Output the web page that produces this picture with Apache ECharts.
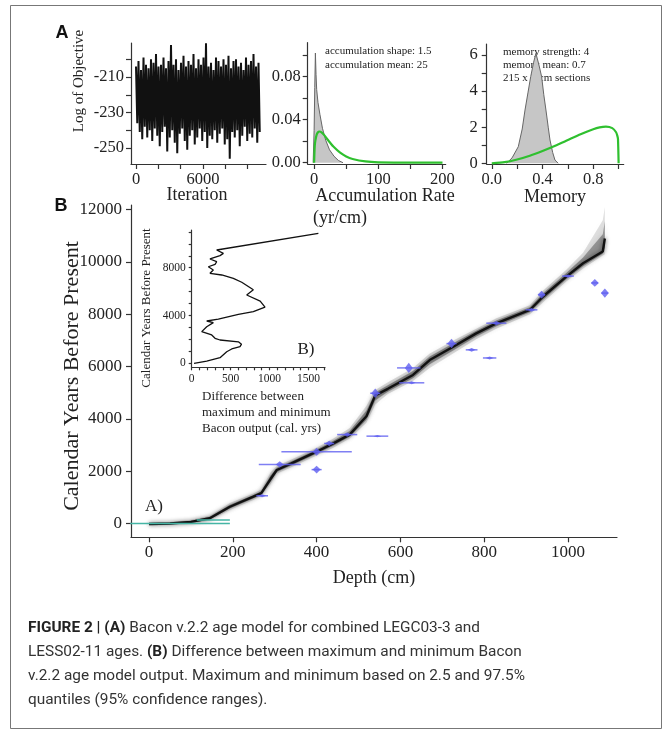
<!DOCTYPE html>
<html>
<head>
<meta charset="utf-8">
<script src="https://cdn.jsdelivr.net/npm/echarts@6/dist/echarts.min.js"></script>
<style>
  html, body { margin: 0; background: #fff; }
  #main { width: 672px; height: 736px; }
</style>
</head>
<body>
<div id="main"></div>
<script>
// ---- data ----

// A: MCMC trace, upper / lower extent of each block of iterations
const traceEnd = 11200
const traceHigh = [-204,-201,-206,-199,-203,-205,-200,-202,-197,-204,-203,-199,-205,-201,-192,-203,-200,-206,-202,-198,-204,-201,-203,-197,-205,-200,-203,-199,-191,-204,-202,-206,-199,-201,-204,-200,-203,-198,-205,-201,-200,-204,-202,-206,-199,-203,-201,-197,-204,-202]
const traceLow = [-236,-241,-245,-238,-244,-240,-246,-239,-243,-249,-241,-238,-252,-244,-240,-247,-253,-242,-239,-246,-251,-243,-240,-248,-244,-239,-246,-241,-250,-243,-245,-240,-247,-242,-239,-248,-245,-256,-241,-244,-240,-249,-243,-238,-246,-242,-244,-239,-247,-241]

// A: accumulation rate, posterior (grey) and prior (green)
const accRate = [-1.5, 0, 1, 2, 3, 4, 6, 9, 13, 18, 24, 31, 38, 45]
const accPosterior = [0, 0.03, 0.07, 0.102, 0.082, 0.068, 0.056, 0.045, 0.032, 0.021, 0.012, 0.006, 0.002, 0]
const accPriorRate = [0, 1, 2, 4, 6, 8, 10, 12, 15, 20, 25, 30, 40, 50, 60, 80, 100, 150, 200]
const accPrior = [0, 0.0156, 0.0208, 0.0261, 0.0283, 0.029, 0.0288, 0.028, 0.0261, 0.0223, 0.0185, 0.015, 0.0095, 0.0058, 0.0035, 0.0012, 0.0004, 0, 0]

// A: memory, posterior (grey) and prior (green)
const memValue = [0.117, 0.16, 0.209, 0.24, 0.262, 0.285, 0.307, 0.33, 0.348, 0.37, 0.393, 0.41, 0.427, 0.445, 0.459, 0.48, 0.498, 0.524]
const memPosterior = [0, 0.3, 0.92, 1.9, 2.95, 3.9, 4.8, 5.6, 6.09, 5.5, 4.8, 3.8, 2.95, 2.0, 1.29, 0.6, 0.18, 0]
const memPriorValue = [0, 0.1, 0.2, 0.3, 0.4, 0.5, 0.6, 0.7, 0.8, 0.85, 0.9, 0.95, 0.98, 0.99, 0.995, 1]
const memPrior = [0, 0.06, 0.21, 0.42, 0.68, 0.97, 1.29, 1.61, 1.89, 1.99, 2.03, 1.95, 1.72, 1.52, 1.34, 0]

// B: age-depth model (mean and 95% range)
const modelDepth = [0, 50, 100, 145, 193, 249, 268, 290, 305, 340, 400, 440, 479, 519, 540, 570, 630, 670, 726, 781, 829, 909, 940, 996, 1036, 1083, 1088]
const modelAge   = [-20, 0, 60, 200, 640, 1025, 1160, 1700, 2045, 2300, 2745, 3065, 3400, 4100, 4900, 5150, 5680, 6250, 6760, 7270, 7655, 8165, 8670, 9440, 9950, 10400, 10900]
const modelLow   = [-80, -60, -20, 110, 520, 900, 1050, 1500, 1900, 2150, 2600, 2900, 3250, 3850, 4550, 4950, 5450, 5950, 6500, 7050, 7450, 8000, 8450, 9250, 9750, 10250, 10300]
const modelHigh  = [40, 60, 140, 300, 780, 1150, 1300, 1950, 2200, 2450, 2900, 3250, 3650, 4500, 5100, 5400, 5950, 6500, 7000, 7450, 7850, 8350, 8900, 9700, 10350, 11600, 12100]

// B: calibrated dates
const dateDepth  = [270, 312, 400, 400, 430, 473, 545, 540, 620, 627, 722, 770, 813, 829, 913, 937, 1000, 1064, 1088]
const dateAge    = [1060, 2260, 2745, 2060, 3060, 3400, 3340, 4980, 5950, 5380, 6880, 6640, 6330, 7660, 8170, 8750, 9460, 9200, 8810]
const dateSpread = [60, 120, 150, 150, 100, 80, 40, 180, 200, 60, 180, 70, 60, 80, 70, 150, 60, 150, 180]
const dateBar    = [14, 50, 84, 12, 12, 24, 26, 12, 28, 30, 12, 14, 16, 24, 14, 8, 14, 8, 8]

// B: surface ages
const surfaceFrom = [-45, 114]
const surfaceTo = [193, 193]
const surfaceAge = [0, 135]

// B inset: max - min difference against age
const insetDiff = [30, 193, 364, 450, 514, 621, 640, 600, 364, 300, 257, 129, 193, 278, 193, 342, 600, 792, 942, 880, 707, 792, 643, 535, 386, 235, 278, 214, 300, 321, 235, 364, 407, 321, 1628]
const insetAge  = [0, 190, 470, 970, 1200, 1390, 1600, 1800, 1950, 2090, 2370, 2650, 3060, 3400, 3540, 3700, 4100, 4320, 4700, 5210, 5715, 6150, 6780, 7110, 7390, 7530, 7810, 8080, 8280, 8500, 8730, 9010, 9200, 9480, 10880]

// tick marks / labels
const traceXTicks = [0, 2000, 4000, 6000, 8000, 10000]
const traceXLabels = [0, 6000]
const traceYTicks = [-250, -240, -230, -220, -210, -200]
const traceYLabels = [-250, -230, -210]
const accXTicks = [0, 50, 100, 150, 200]
const accXLabels = [0, 100, 200]
const accYTicks = [0, 0.02, 0.04, 0.06, 0.08, 0.1]
const accYLabels = [0, 0.04, 0.08]
const memXTicks = [0, 0.2, 0.4, 0.6, 0.8, 1]
const memXLabels = [0, 0.4, 0.8]
const memYTicks = [0, 1, 2, 3, 4, 5, 6]
const memYLabels = [0, 2, 4, 6]
const depthTicks = [0, 200, 400, 600, 800, 1000]
const ageTicks = [0, 2000, 4000, 6000, 8000, 10000, 12000]
const insetXTicks = [0, 100, 200, 300, 400, 500, 600, 700, 800, 900, 1000, 1100, 1200, 1300, 1400, 1500, 1600, 1700]
const insetXLabels = [0, 500, 1000, 1500]
const insetYTicks = [0, 1000, 2000, 3000, 4000, 5000, 6000, 7000, 8000, 9000, 10000, 11000]
const insetYLabels = [0, 4000, 8000]

// ---- chart ----
const serif = "Liberation Serif"
const axisColor = "#333"

function axis(gridIndex, min, max, ticks, labels, opts = {}) {
  return {
    type: "value", gridIndex, min, max,
    splitLine: { show: false },
    axisLine: { show: true, onZero: false, lineStyle: { color: axisColor, width: 1.2 } },
    axisTick: { show: true, length: opts.tick || 5, customValues: ticks, lineStyle: { color: axisColor, width: 1.2 } },
    axisLabel: {
      customValues: labels, formatter: opts.fmt || (v => String(v)), margin: opts.margin || 7,
      fontFamily: serif, fontSize: opts.size || 16.5, color: "#222"
    }
  }
}

function txt(x, y, text, size, o = {}) {
  return {
    type: "text", x, y, rotation: o.rot || 0,
    style: {
      text, fontSize: size, fontFamily: o.family || serif, fontWeight: o.weight || "normal",
      fill: o.fill || "#222", align: o.align || "center", verticalAlign: "middle"
    }
  }
}

const pairs = (xs, ys) => xs.map((x, i) => [x, ys[i]])
const blue = "rgba(95,95,240,0.8)"

// trace drawn as a zigzag between the block extremes
const traceStep = traceEnd / traceHigh.length
const traceLine = traceHigh.flatMap((h, i) => [[i * traceStep, h], [(i + 0.5) * traceStep, traceLow[i]]])

const bandSeries = (widen, fill, blur) => ({
  type: "custom", xAxisIndex: 3, yAxisIndex: 3, data: [[0, 0]], z: 2,
  renderItem: (params, api) => {
    const pts = []
    modelDepth.forEach((d, i) => pts.push(api.coord([d, modelAge[i] + (modelHigh[i] - modelAge[i]) * widen])))
    for (let i = modelDepth.length - 1; i >= 0; i--)
      pts.push(api.coord([modelDepth[i], modelAge[i] - (modelAge[i] - modelLow[i]) * widen]))
    return { type: "polygon", shape: { points: pts }, style: { fill, shadowBlur: blur, shadowColor: fill } }
  }
})

const caption = {
  b: { fontWeight: "bold", fontFamily: "Roboto", fontSize: 15.4, fill: "#222" }
}
const capLine = (y, text) => ({
  type: "text", x: 28, y,
  style: { text, rich: caption, fontFamily: "Roboto", fontSize: 15.4, fill: "#333", verticalAlign: "middle" }
})

const option = {
  backgroundColor: "#fff",
  animation: false,
  grid: [
    { left: 131, top: 43, width: 135, height: 121 },
    { left: 307.7, top: 42.7, width: 138, height: 121.3 },
    { left: 486.7, top: 44, width: 137, height: 120 },
    { left: 131, top: 205, width: 486, height: 332.3 },
    { left: 191.7, top: 230, width: 133.3, height: 137.3 }
  ],
  xAxis: [
    axis(0, -448, 11648, traceXTicks, traceXLabels),
    axis(1, -10, 205, accXTicks, accXLabels),
    axis(2, -0.04, 1.04, memXTicks, memXLabels, { fmt: v => v.toFixed(1) }),
    axis(3, -43, 1117, depthTicks, depthTicks, { size: 17 }),
    axis(4, 0, 1713, insetXTicks, insetXLabels, { size: 11.5, tick: 3, margin: 6 })
  ],
  yAxis: [
    axis(0, -259, -190.8, traceYTicks, traceYLabels),
    axis(1, -0.0012, 0.1116, accYTicks, accYLabels, { fmt: v => v.toFixed(2) }),
    axis(2, -0.04, 6.61, memYTicks, memYLabels, { margin: 9 }),
    axis(3, -528, 12179, ageTicks, ageTicks, { size: 17, margin: 9 }),
    axis(4, -335, 11155, insetYTicks, insetYLabels, { size: 11.5, tick: 3, margin: 6 })
  ],
  series: [
    {
      type: "line", xAxisIndex: 0, yAxisIndex: 0, data: traceLine,
      symbol: "none", lineStyle: { color: "#111", width: 2 }
    },
    {
      type: "line", xAxisIndex: 1, yAxisIndex: 1, data: pairs(accRate, accPosterior),
      symbol: "none", lineStyle: { color: "#666", width: 1 }, areaStyle: { color: "#c6c6c6", opacity: 1 }
    },
    {
      type: "line", xAxisIndex: 1, yAxisIndex: 1, data: pairs(accPriorRate, accPrior), smooth: 0.3,
      symbol: "none", lineStyle: { color: "#2fc02f", width: 2.2 }
    },
    {
      type: "line", xAxisIndex: 2, yAxisIndex: 2, data: pairs(memValue, memPosterior),
      symbol: "none", lineStyle: { color: "#666", width: 1 }, areaStyle: { color: "#c6c6c6", opacity: 1 }
    },
    {
      type: "line", xAxisIndex: 2, yAxisIndex: 2, data: pairs(memPriorValue, memPrior), smooth: 0.2,
      symbol: "none", lineStyle: { color: "#2fc02f", width: 2.2 }
    },
    bandSeries(1, "rgba(0,0,0,0.12)", 8),
    bandSeries(0.55, "rgba(0,0,0,0.3)", 6),
    {
      type: "line", xAxisIndex: 3, yAxisIndex: 3, data: pairs(modelDepth, modelAge), z: 3,
      symbol: "none", lineStyle: { color: "#111", width: 2.4, shadowBlur: 4, shadowColor: "rgba(0,0,0,0.6)" }
    },
    {
      type: "custom", xAxisIndex: 3, yAxisIndex: 3, z: 4,
      data: dateDepth.map((d, i) => [d, dateAge[i], dateSpread[i], dateBar[i]]),
      renderItem: (params, api) => {
        const d = api.value(0), a = api.value(1), s = api.value(2), b = api.value(3)
        const c = api.coord([d, a])
        const top = api.coord([d, a + s]), bot = api.coord([d, a - s])
        const l = api.coord([d - b, a]), r = api.coord([d + b, a])
        return {
          type: "group", children: [
            { type: "line", shape: { x1: l[0], y1: l[1], x2: r[0], y2: r[1] }, style: { stroke: blue, lineWidth: 1.5 } },
            { type: "polygon", shape: { points: [top, [c[0] + 4, c[1]], bot, [c[0] - 4, c[1]]] }, style: { fill: blue } }
          ]
        }
      }
    },
    {
      type: "custom", xAxisIndex: 3, yAxisIndex: 3, z: 4,
      data: surfaceFrom.map((f, i) => [f, surfaceTo[i], surfaceAge[i]]),
      renderItem: (params, api) => {
        const p0 = api.coord([api.value(0), api.value(2)])
        const p1 = api.coord([api.value(1), api.value(2)])
        return { type: "line", shape: { x1: p0[0], y1: p0[1], x2: p1[0], y2: p1[1] }, style: { stroke: "#45b5a5", lineWidth: 1.5 } }
      }
    },
    {
      type: "line", xAxisIndex: 4, yAxisIndex: 4, data: pairs(insetDiff, insetAge),
      symbol: "none", lineStyle: { color: "#111", width: 1.3 }
    }
  ],
  graphic: [
    { type: "rect", shape: { x: 10.5, y: 5.5, width: 651, height: 723 }, style: { fill: "none", stroke: "#777", lineWidth: 1 } },
    txt(62, 33, "A", 18, { family: "Liberation Sans", weight: "bold", fill: "#111" }),
    txt(61, 206, "B", 18, { family: "Liberation Sans", weight: "bold", fill: "#111" }),
    txt(79, 81, "Log of Objective", 15, { rot: Math.PI / 2 }),
    txt(197, 195, "Iteration", 18),
    txt(385, 196, "Accumulation Rate", 18),
    txt(313, 218, "(yr/cm)", 18, { align: "left" }),
    txt(555, 197, "Memory", 18),
    txt(325, 51, "accumulation shape: 1.5", 11, { align: "left" }),
    txt(325, 65, "accumulation mean: 25", 11, { align: "left" }),
    txt(503, 52, "memory strength: 4", 11, { align: "left" }),
    txt(503, 65, "memory mean: 0.7", 11, { align: "left" }),
    txt(503, 78, "215 x 5 cm sections", 11, { align: "left" }),
    txt(72, 376, "Calendar Years Before Present", 22, { rot: Math.PI / 2 }),
    txt(374, 578, "Depth (cm)", 18),
    txt(145, 507, "A)", 17, { align: "left" }),
    txt(147, 308, "Calendar Years Before Present", 13, { rot: Math.PI / 2 }),
    txt(306, 350, "B)", 17),
    txt(202, 397, "Difference between", 13, { align: "left" }),
    txt(202, 413, "maximum and minimum", 13, { align: "left" }),
    txt(202, 429, "Bacon output (cal. yrs)", 13, { align: "left" }),
    capLine(628, "{b|FIGURE 2 | (A)} Bacon v.2.2 age model for combined LEGC03-3 and"),
    capLine(652, "LESS02-11 ages. {b|(B)} Difference between maximum and minimum Bacon"),
    capLine(676, "v.2.2 age model output. Maximum and minimum based on 2.5 and 97.5%"),
    capLine(700, "quantiles (95% confidence ranges).")
  ]
}

const chartContainer = document.getElementById("main")
const myChart = echarts.init(chartContainer)
myChart.setOption(option)
</script>
</body>
</html>
